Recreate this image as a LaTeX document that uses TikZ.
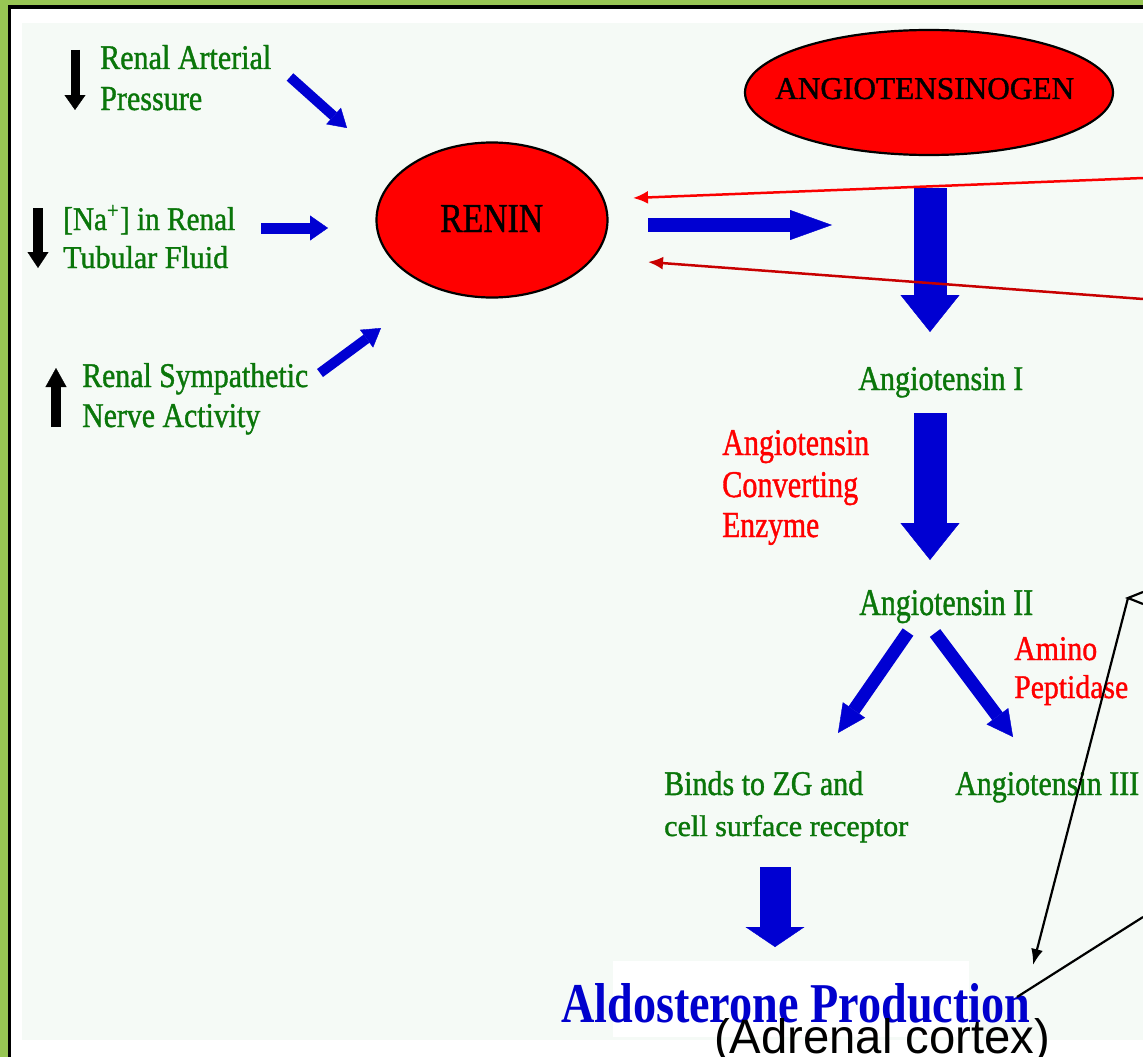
\documentclass[tikz,border=0pt]{standalone}
\usepackage{fontspec}
\setmainfont{Liberation Serif}
\newfontfamily\heavyf[FakeBold=1.2]{Liberation Serif}
\newfontfamily\arialf{Liberation Sans}
\usepackage{graphicx}
\usetikzlibrary{arrows.meta,shapes.geometric}
\definecolor{bggreen}{RGB}{152,198,84}
\definecolor{panelc}{RGB}{245,250,246}
\definecolor{txtgreen}{RGB}{10,118,10}
\definecolor{txtred}{RGB}{255,0,0}
\definecolor{txtblue}{RGB}{0,0,205}
\definecolor{arrblue}{RGB}{0,0,210}
\definecolor{lred}{RGB}{250,0,0}
\definecolor{dred}{RGB}{200,0,0}
\newcommand{\fitt}[3]{\resizebox{#1pt}{#2pt}{\heavyf #3}}
\begin{document}
\begin{tikzpicture}[x=1pt,y=-1pt,
  gtxt/.style={anchor=base west, inner sep=0pt, text=txtgreen},
  rtxt/.style={anchor=base west, inner sep=0pt, text=txtred},
  ktxt/.style={anchor=base west, inner sep=0pt, text=black},
  bluearr/.style args={#1/#2/#3}{draw=arrblue, line width=#1pt,
    -{Triangle[width=#2pt, length=#3pt, line width=0.4pt]}},
  blackarr/.style args={#1/#2/#3}{draw=black, line width=#1pt,
    -{Triangle[width=#2pt, length=#3pt, line width=0.4pt]}},
  oval/.style={ellipse, draw=black, line width=2.2pt, fill=red, inner sep=0pt},
  redlink/.style={line width=2.5pt, -{Latex[length=15pt, width=13pt]}},
  blklink/.style={draw=black, line width=2.2pt}
]
\useasboundingbox (0,0) rectangle (1143,1057);
% frame and panel
\fill[bggreen] (0,0) rectangle (1143,1057);
\fill[black] (8,5) rectangle (1143,1057);
\fill[white] (11,9) rectangle (1143,1057);
\fill[panelc] (22,23) rectangle (1143,1040);

% left stimuli
\node[gtxt] (art1) at (100,69) {\fitt{171}{24}{Renal Arterial}};
\node[gtxt] (art2) at (100,110) {\fitt{102}{23}{Pressure}};
\node[gtxt] (na1) at (63,230) {\fitt{172}{25}{[Na\textsuperscript{+}] in Renal}};
\node[gtxt] (na2) at (63,268) {\fitt{165}{22}{Tubular Fluid}};
\node[gtxt] (sy1) at (82,387) {\fitt{226}{24}{Renal Sympathetic}};
\node[gtxt] (sy2) at (82,427) {\fitt{178}{23}{Nerve Activity}};

% black up/down arrows
\coordinate (k1s) at (75,50);  \coordinate (k1e) at (75,110);
\coordinate (k2s) at (38,208); \coordinate (k2e) at (38,268);
\coordinate (k3s) at (56,427); \coordinate (k3e) at (56,368);
\draw[blackarr=9/21/15] (k1s) -- (k1e);
\draw[blackarr=10/21/16] (k2s) -- (k2e);
\draw[blackarr=10/21/19] (k3s) -- (k3e);

% small blue arrows to renin
\coordinate (b1s) at (290,77);  \coordinate (b1e) at (347,128);
\coordinate (b2s) at (261,228); \coordinate (b2e) at (328,228);
\coordinate (b3s) at (320,373); \coordinate (b3e) at (381,328);
\draw[bluearr=10/22/18] (b1s) -- (b1e);
\draw[bluearr=11/25/18] (b2s) -- (b2e);
\draw[bluearr=10/22/18] (b3s) -- (b3e);

% ellipses
\node[oval, minimum width=231pt, minimum height=155pt] (renin) at (492,220) {};
\node[ktxt] (renint) at (440,232) {\fitt{103}{27}{RENIN}};
\node[oval, minimum width=368pt, minimum height=125pt] (agen) at (929,92.5) {};
\node[ktxt] (agent) at (775,99) {\fitt{299}{21}{ANGIOTENSINOGEN}};

% renin -> arrow
\coordinate (hs) at (648,225); \coordinate (he) at (832,225);
\draw[bluearr=14/30/42] (hs) -- (he);

% main cascade
\coordinate (d1s) at (930,188); \coordinate (d1e) at (930,332);
\draw[bluearr=33/59/37] (d1s) -- (d1e);
\node[gtxt] (ang1) at (858,390) {\fitt{165}{23}{Angiotensin I}};
\coordinate (d2s) at (930,413); \coordinate (d2e) at (930,560);
\draw[bluearr=33/59/37] (d2s) -- (d2e);
\node[rtxt] (ace1) at (722,455) {\fitt{147}{25}{Angiotensin}};
\node[rtxt] (ace2) at (722,497) {\fitt{136}{25}{Converting}};
\node[rtxt] (ace3) at (722,537) {\fitt{97}{24}{Enzyme}};
\node[gtxt] (ang2) at (859,615) {\fitt{174}{25}{Angiotensin II}};
\node[rtxt] (am1) at (1014,660) {\fitt{83}{23}{Amino}};
\node[rtxt] (am2) at (1014,698) {\fitt{114}{23}{Peptidase}};

\coordinate (lds) at (908,632); \coordinate (lde) at (838,733);
\coordinate (rds) at (935,633); \coordinate (rde) at (1013,737);
\draw[bluearr=13/27/28] (lds) -- (lde);
\draw[bluearr=13/27/26] (rds) -- (rde);

\node[gtxt] (bind1) at (664,795) {\fitt{199}{24}{Binds to ZG and}};
\node[gtxt] (bind2) at (664,836) {\fitt{244}{21}{cell surface receptor}};
\node[gtxt] (ang3) at (955,795) {\fitt{184}{23}{Angiotensin III}};

\coordinate (d3s) at (775,867); \coordinate (d3e) at (775,947);
\draw[bluearr=31/59/20] (d3s) -- (d3e);

% aldosterone
\fill[white] (613,961) rectangle (969,1037);
\node[anchor=base west, inner sep=0pt, text=txtblue] (aldo) at (561,1022) {\resizebox{469pt}{39pt}{\bfseries Aldosterone Production}};
\node[ktxt] (adrenal) at (714,1053) {\resizebox{336pt}{35pt}{\arialf (Adrenal cortex)}};

% red feedback lines
\coordinate (r1s) at (1143,178); \coordinate (r1e) at (633,198);
\coordinate (r2s) at (1143,299); \coordinate (r2e) at (648,262);
\draw[redlink, draw=lred, fill=lred] (r1s) -- (r1e);
\draw[redlink, draw=dred, fill=dred] (r2s) -- (r2e);

% black lines to aldosterone
\coordinate (c1a) at (1143,592); \coordinate (c1b) at (1128,598);
\coordinate (c1c) at (1143,604); \coordinate (c1e) at (1033,965);
\coordinate (c2s) at (1143,917); \coordinate (c2e) at (1017,997);
\draw[blklink] (c1a) -- (c1b) -- (c1c);
\draw[blklink, -{Latex[length=16pt, width=12pt]}] (c1b) -- (c1e);
\draw[blklink] (c2s) -- (c2e);
\end{tikzpicture}
\end{document}
